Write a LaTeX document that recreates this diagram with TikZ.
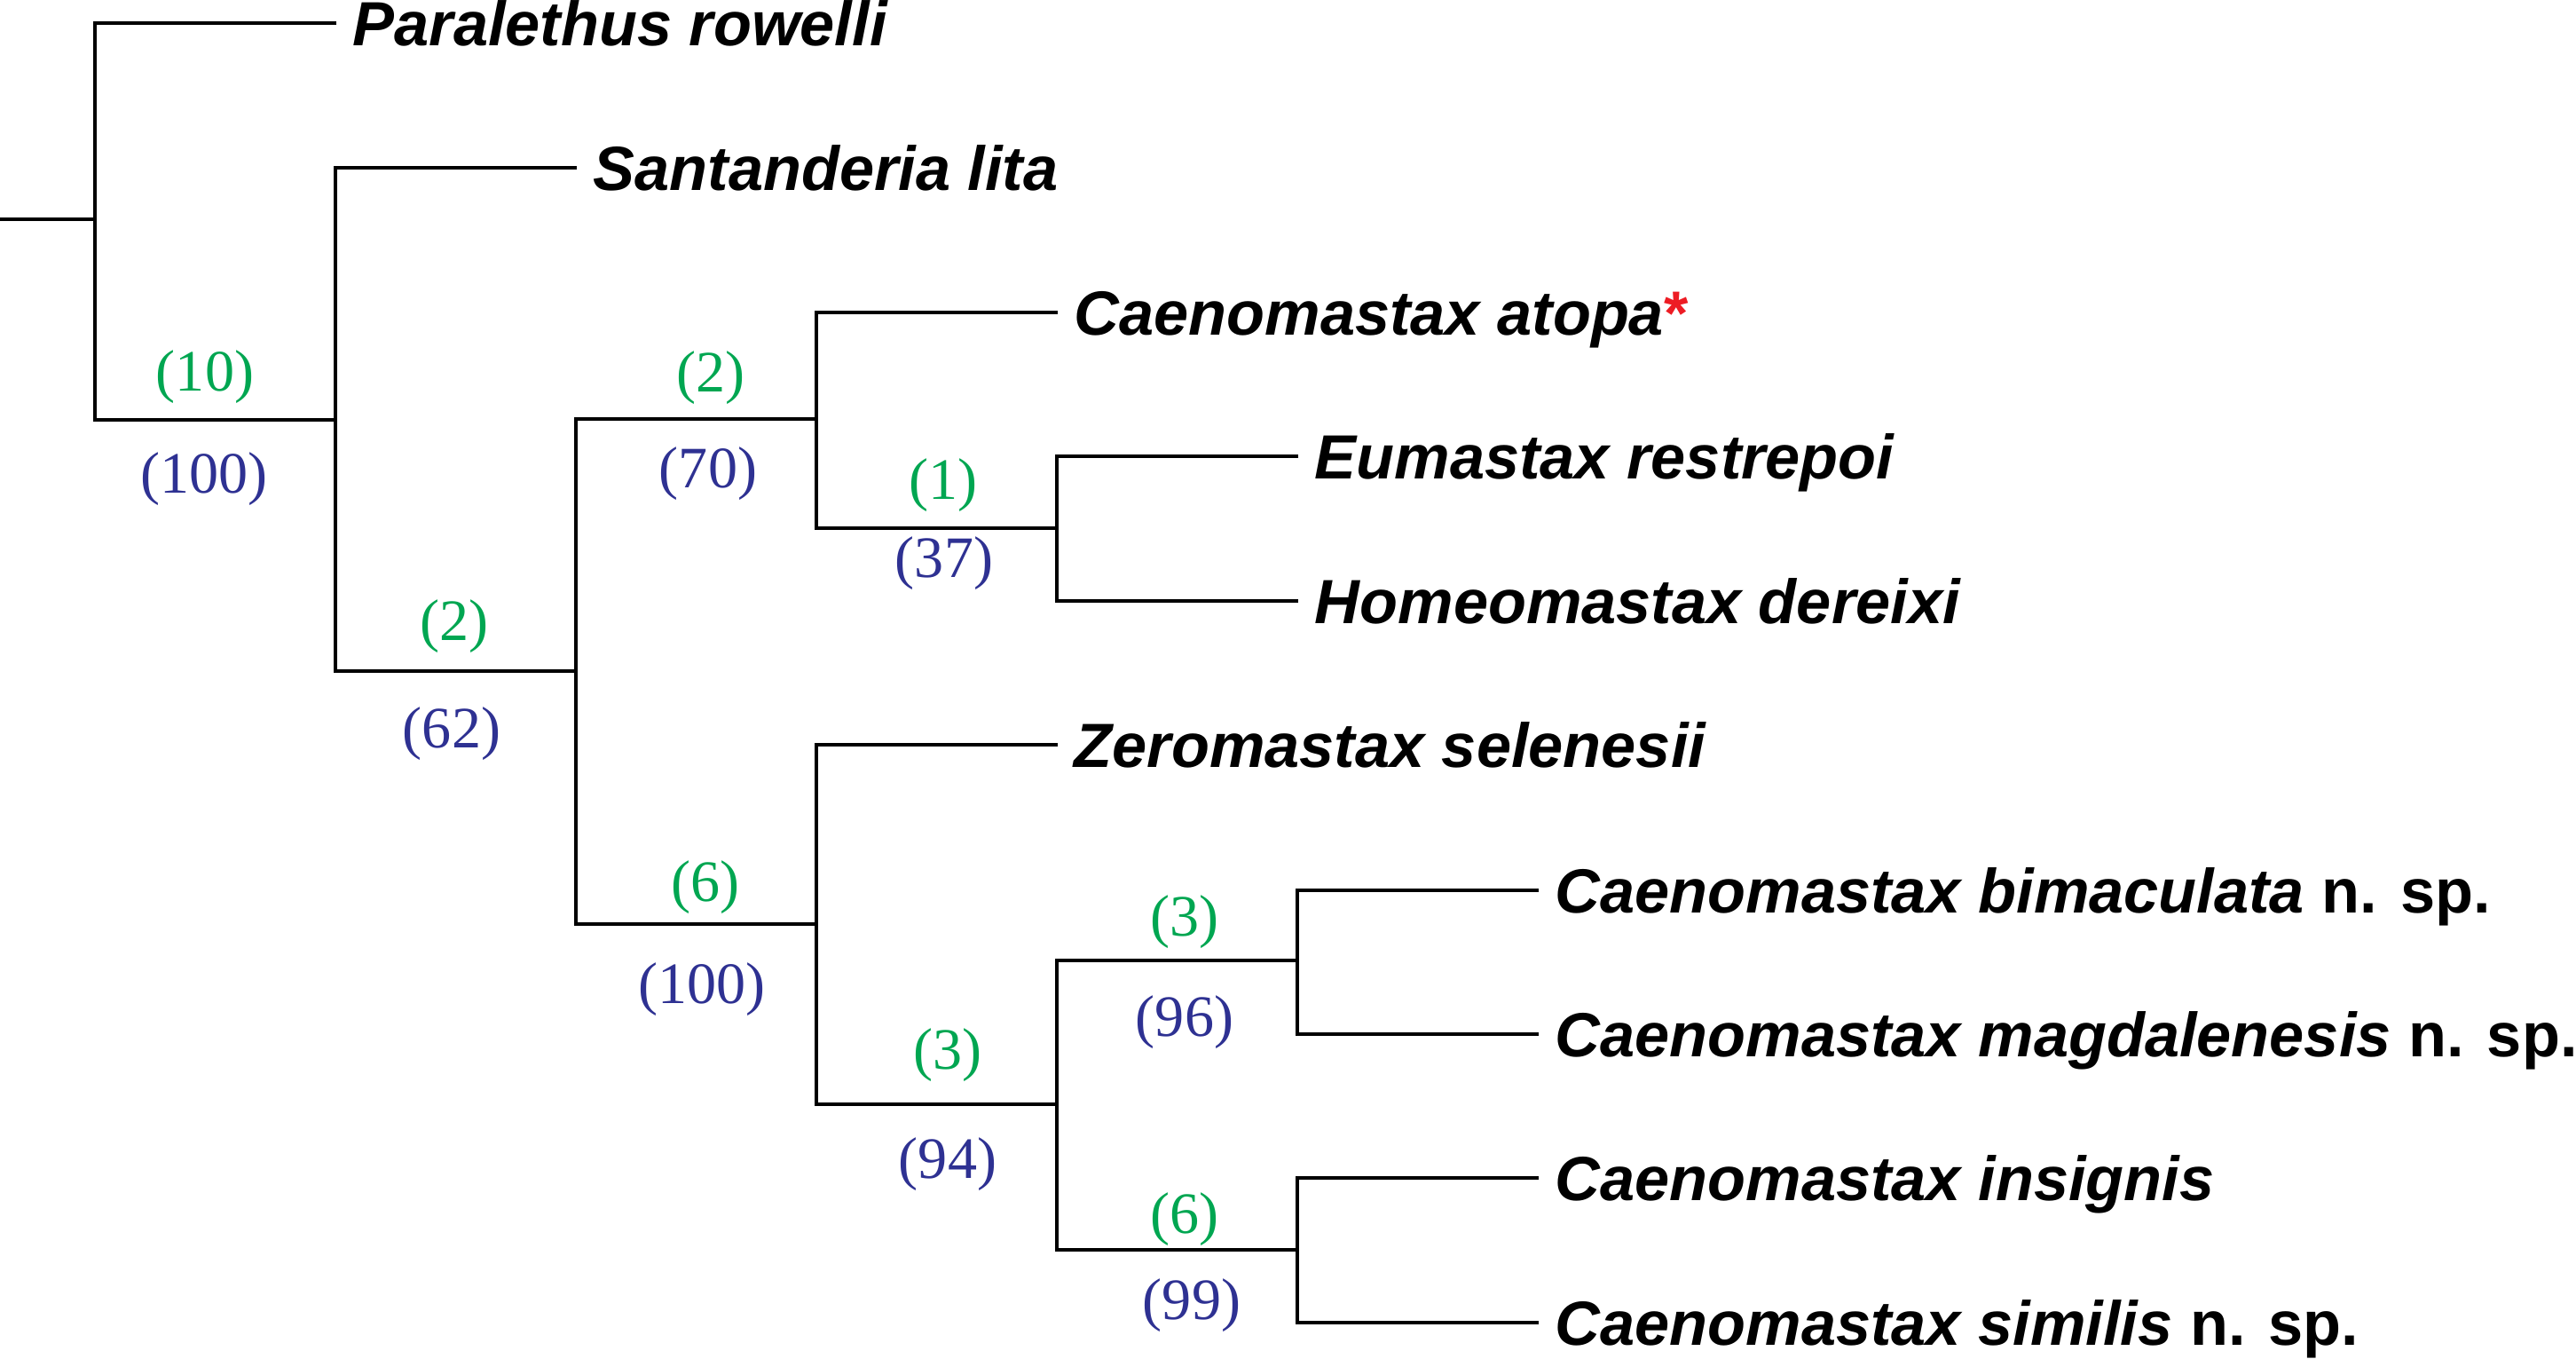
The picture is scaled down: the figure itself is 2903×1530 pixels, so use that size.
\documentclass[tikz,border=0pt]{standalone}
\usepackage{fontspec}
\setmainfont{Liberation Sans}
\newfontfamily\numfont{Liberation Serif}
\usepackage{xcolor}
\usetikzlibrary{positioning}
\definecolor{bremergreen}{RGB}{0,166,81}
\definecolor{bootblue}{RGB}{46,49,146}
\definecolor{starred}{RGB}{237,28,36}

\begin{document}
\begin{tikzpicture}[x=0.01cm, y=-0.01cm,
        branch/.style={line width=0.95pt, draw=black},
        taxon/.style={inner sep=0pt, text height=0.503cm, text depth=0pt, font=\fontsize{20}{24}\selectfont\bfseries},
        bremer/.style={inner sep=0pt, text=bremergreen, font=\numfont\fontsize{18.8}{22}\selectfont},
        boot/.style={inner sep=0pt, text=bootblue, font=\numfont\fontsize{18.8}{22}\selectfont}
    ]
        \useasboundingbox (0,0) rectangle (2903,1530);

        % Internal nodes
        \coordinate (root) at (0,247);
        \coordinate (nA) at (107,247);
        \coordinate (nB) at (378,473);
        \coordinate (nC) at (649,756);
        \coordinate (nD) at (920,472);
        \coordinate (nE) at (1191,595);
        \coordinate (nF) at (920,1041);
        \coordinate (nG) at (1191,1244);
        \coordinate (nH) at (1462,1082);
        \coordinate (nI) at (1462,1408);

        % Tips
        \coordinate (tParal) at (379,26);
        \coordinate (tSant) at (650,189);
        \coordinate (tAtopa) at (1192,352);
        \coordinate (tEum) at (1463,514);
        \coordinate (tHom) at (1463,677);
        \coordinate (tZero) at (1192,839);
        \coordinate (tBim) at (1734,1003);
        \coordinate (tMag) at (1734,1165);
        \coordinate (tIns) at (1734,1327);
        \coordinate (tSim) at (1734,1490);

        % Taxa
        \node[taxon, right=0.18cm of tParal] (paral) {\textit{Paralethus rowelli}};
        \node[taxon, right=0.18cm of tSant] (sant) {\textit{Santanderia lita}};
        \node[taxon, right=0.18cm of tAtopa] (atopa) {\textit{Caenomastax atopa}\textcolor{starred}{*}};
        \node[taxon, right=0.18cm of tEum] (eum) {\textit{Eumastax restrepoi}};
        \node[taxon, right=0.18cm of tHom] (hom) {\textit{Homeomastax dereixi}};
        \node[taxon, right=0.18cm of tZero] (zero) {\textit{Zeromastax selenesii}};
        \node[taxon, right=0.18cm of tBim] (bim) {\textit{Caenomastax bimaculata} n. sp.};
        \node[taxon, right=0.18cm of tMag] (mag) {\textit{Caenomastax magdalenesis} n. sp.};
        \node[taxon, right=0.18cm of tIns] (ins) {\textit{Caenomastax insignis}};
        \node[taxon, right=0.18cm of tSim] (sim) {\textit{Caenomastax similis} n. sp.};

        % Branches
        \draw[branch] (root) -- (nA);
        \draw[branch] (tParal) -| (nA) |- (nB);
        \draw[branch] (tSant) -| (nB) |- (nC);
        \draw[branch] (nD) -| (nC) |- (nF);
        \draw[branch] (tAtopa) -| (nD) |- (nE);
        \draw[branch] (tEum) -| (nE) |- (tHom);
        \draw[branch] (tZero) -| (nF) |- (nG);
        \draw[branch] (nH) -| (nG) |- (nI);
        \draw[branch] (tBim) -| (nH) |- (tMag);
        \draw[branch] (tIns) -| (nI) |- (tSim);

        % Support values
        \node[bremer] (brA) at (231,425) {(10)};
        \node[boot] (btA) at (230,540) {(100)};
        \node[bremer] (brB) at (512,706) {(2)};
        \node[boot] (btB) at (509,827) {(62)};
        \node[bremer] (brD) at (801,426) {(2)};
        \node[boot] (btD) at (798,534) {(70)};
        \node[bremer] (brE) at (1063,547) {(1)};
        \node[boot] (btE) at (1064,635) {(37)};
        \node[bremer] (brF) at (795,1000) {(6)};
        \node[boot] (btF) at (791,1115) {(100)};
        \node[bremer] (brG) at (1068,1189) {(3)};
        \node[boot] (btG) at (1068,1312) {(94)};
        \node[bremer] (brH) at (1335,1039) {(3)};
        \node[boot] (btH) at (1335,1152) {(96)};
        \node[bremer] (brI) at (1335,1374) {(6)};
        \node[boot] (btI) at (1343,1471) {(99)};

    \end{tikzpicture}
\end{document}
